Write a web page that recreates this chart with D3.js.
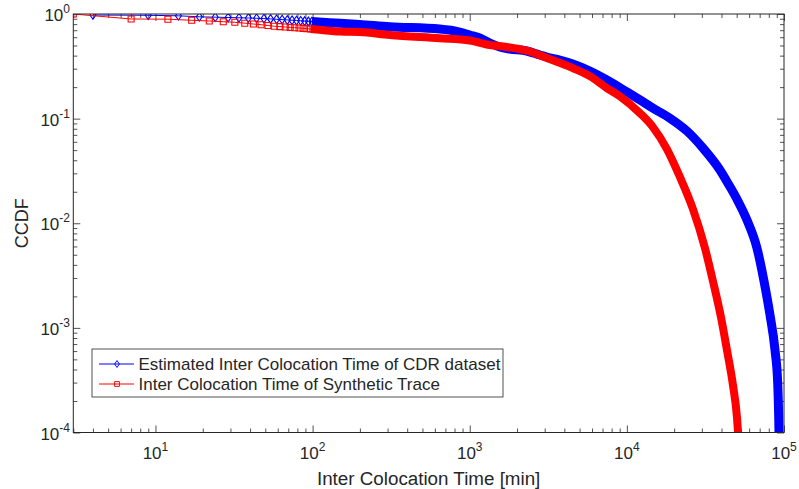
<!DOCTYPE html>
<html><head><meta charset="utf-8">
<script src="https://cdn.jsdelivr.net/npm/d3@7"></script>
<style>
body{margin:0;background:#fff}
svg{display:block}
text{font-family:"Liberation Sans",Arial,Helvetica,sans-serif;fill:#262626}
</style>
</head><body>
<svg id="c" width="799" height="489"></svg>
<script>
// ---------- data ----------
const xDomain = [3, 1e5];
const yDomain = [1e-4, 1];
const xMajorTicks = [10, 100, 1000, 10000, 100000];
const xTickExp = ["1", "2", "3", "4", "5"];
const yMajorTicks = [1e-4, 1e-3, 1e-2, 1e-1, 1];
const yTickExp = ["-4", "-3", "-2", "-1", "0"];
const seriesNames = ["Estimated Inter Colocation Time of CDR dataset", "Inter Colocation Time of Synthetic Trace"];

// individually visible markers
const blueSparseX = [4, 9, 14, 19, 24, 29, 34, 39, 44, 49, 54, 59, 64, 69, 74, 79, 84, 89, 94, 99];
const blueSparseY = [0.978, 0.972, 0.961, 0.940, 0.932, 0.926, 0.920, 0.916, 0.910, 0.904, 0.898, 0.890, 0.884, 0.878, 0.872, 0.867, 0.861, 0.855, 0.850, 0.846];
const redSparseX = [3, 7, 12, 17, 22, 27, 32, 37, 42, 47, 52, 57, 62, 67, 72, 77, 82, 87, 92, 97];
const redSparseY = [1.0, 0.896, 0.892, 0.871, 0.857, 0.844, 0.833, 0.817, 0.802, 0.790, 0.776, 0.764, 0.758, 0.751, 0.745, 0.740, 0.735, 0.729, 0.724, 0.719];

// dense part (markers merge into a band)
const blueDenseX = [99, 128, 150, 199, 310, 644, 863, 1000, 1158, 1341, 1553, 1798, 2307, 2793, 3094, 3741, 4529, 5810, 7461, 10000, 12104, 14652, 18793, 24110, 30480, 39110, 44640, 50190, 58130, 67300, 74590, 81440, 87640, 91190, 92530, 92900];
const blueDenseY = [0.846, 0.826, 0.815, 0.794, 0.756, 0.719, 0.673, 0.630, 0.590, 0.528, 0.484, 0.463, 0.443, 0.406, 0.388, 0.363, 0.333, 0.285, 0.234, 0.180, 0.151, 0.126, 0.101, 0.0761, 0.0524, 0.0323, 0.0232, 0.0170, 0.01073, 0.00579, 0.0028, 0.00133, 0.000614, 0.000297, 0.00014, 0.0001];
const redDenseX = [97, 128, 150, 199, 310, 644, 1000, 1341, 1720, 2307, 3094, 4529, 5810, 7461, 9025, 12104, 14652, 17980, 21760, 26330, 31400, 35300, 39690, 43350, 47330, 50190, 51000];
const redDenseY = [0.719, 0.692, 0.680, 0.673, 0.630, 0.586, 0.558, 0.505, 0.484, 0.446, 0.380, 0.304, 0.255, 0.196, 0.164, 0.113, 0.083, 0.0512, 0.0277, 0.01367, 0.00579, 0.0028, 0.00127, 0.000614, 0.000284, 0.00014, 0.0001];

// ---------- drawing ----------
const svg = d3.select('#c');
const M = {l: 73.3, r: 784, t: 14, b: 432.5};
const AX = '#262626';
const BLUE = '#0000ff', RED = '#ff0000';
const x = d3.scaleLog().domain(xDomain).range([M.l, M.r]);
const y = d3.scaleLog().domain(yDomain).range([M.b, M.t]);

const isMajor = v => Math.abs(Math.log10(v) - Math.round(Math.log10(v))) < 1e-9;
const xMinor = x.ticks().filter(v => !isMajor(v) && v >= xDomain[0] && v <= xDomain[1]);
const yMinor = y.ticks().filter(v => !isMajor(v));

svg.append('rect').attr('width', 799).attr('height', 489).attr('fill', '#fff');

svg.append('defs').append('clipPath').attr('id', 'clip')
  .append('rect').attr('x', M.l).attr('y', M.t).attr('width', M.r - M.l).attr('height', M.b - M.t);

function axes(axisFn, scale, vals, size, tr) {
  const g = svg.append('g').attr('transform', tr)
    .call(axisFn(scale).tickValues(vals).tickSizeInner(-size).tickSizeOuter(0).tickFormat(''));
  g.select('.domain').remove();
  g.selectAll('line').attr('stroke', AX).attr('stroke-width', 0.8);
}
[[xMajorTicks, 7], [xMinor, 4]].forEach(([v, s]) => {
  axes(d3.axisBottom, x, v, s, `translate(0,${M.b})`);
  axes(d3.axisTop, x, v, s, `translate(0,${M.t})`);
});
[[yMajorTicks, 7], [yMinor, 4]].forEach(([v, s]) => {
  axes(d3.axisLeft, y, v, s, `translate(${M.l},0)`);
  axes(d3.axisRight, y, v, s, `translate(${M.r},0)`);
});

// series
const plot = svg.append('g').attr('clip-path', 'url(#clip)');
const lineGen = d3.line().x(d => x(d[0])).y(d => y(d[1]));
const bandGen = d3.line().x(d => x(d[0])).y(d => y(d[1])).curve(d3.curveMonotoneX);
const zip = (a, b) => a.map((v, i) => [v, b[i]]);

const diamond = 'M0,-4.3L3,0L0,4.3L-3,0Z';
const square = 'M-3,-3L3,-3L3,3L-3,3Z';

function drawSeries(sx, sy, dx, dy, color, shape, bandW) {
  const sparse = zip(sx, sy), dense = zip(dx, dy);
  const g = plot.append('g');
  g.append('path').datum(sparse.concat(dense.slice(1))).attr('d', lineGen)
    .attr('fill', 'none').attr('stroke', color).attr('stroke-width', 1);
  g.append('path').datum(dense).attr('d', bandGen)
    .attr('fill', 'none').attr('stroke', color).attr('stroke-width', bandW)
    .attr('stroke-linejoin', 'round');
  g.selectAll('path.m').data(sparse).enter().append('path').attr('class', 'm')
    .attr('d', shape).attr('transform', d => `translate(${x(d[0])},${y(d[1])})`)
    .attr('fill', 'none').attr('stroke', color).attr('stroke-width', 1.1);
  const last = dense[dense.length - 1];
  g.append('path').attr('d', shape).attr('transform', `translate(${x(last[0])},${y(last[1])})`)
    .attr('fill', 'none').attr('stroke', color).attr('stroke-width', 1.1);
}
drawSeries(blueSparseX, blueSparseY, blueDenseX, blueDenseY, BLUE, diamond, 9);
drawSeries(redSparseX, redSparseY, redDenseX, redDenseY, RED, square, 8);

// box
svg.append('rect').attr('x', M.l).attr('y', M.t).attr('width', M.r - M.l).attr('height', M.b - M.t)
  .attr('fill', 'none').attr('stroke', AX).attr('stroke-width', 1);

// tick labels
const TF = 17, EF = 12;
xMajorTicks.forEach((v, i) => {
  const t = svg.append('text').attr('x', x(v)).attr('y', 459).attr('text-anchor', 'middle').attr('font-size', TF);
  t.append('tspan').text('10');
  t.append('tspan').attr('dy', -8).attr('font-size', EF).text(xTickExp[i]);
});
yMajorTicks.forEach((v, i) => {
  const t = svg.append('text').attr('x', 70).attr('y', y(v) + 7).attr('text-anchor', 'end').attr('font-size', TF);
  t.append('tspan').text('10');
  t.append('tspan').attr('dy', -8).attr('font-size', EF).text(yTickExp[i]);
});

// axis labels
svg.append('text').attr('x', (M.l + M.r) / 2).attr('y', 485).attr('text-anchor', 'middle')
  .attr('font-size', 18.8).text('Inter Colocation Time [min]');
svg.append('text').attr('transform', `translate(28,${(M.t + M.b) / 2}) rotate(-90)`)
  .attr('text-anchor', 'middle').attr('font-size', 18).text('CCDF');

// legend
const lg = svg.append('g');
lg.append('rect').attr('x', 92).attr('y', 349).attr('width', 411).attr('height', 48)
  .attr('fill', '#fff').attr('stroke', AX).attr('stroke-width', 0.8);
[[BLUE, diamond, 364], [RED, square, 384]].forEach(([c, s, yy], i) => {
  lg.append('line').attr('x1', 99).attr('x2', 134).attr('y1', yy).attr('y2', yy)
    .attr('stroke', c).attr('stroke-width', 1);
  lg.append('path').attr('d', s).attr('transform', `translate(117,${yy}) scale(0.8)`)
    .attr('fill', 'none').attr('stroke', c).attr('stroke-width', 1.2);
  lg.append('text').attr('x', 138.5).attr('y', yy + 6).attr('font-size', 17).text(seriesNames[i]);
});
</script>
</body></html>
